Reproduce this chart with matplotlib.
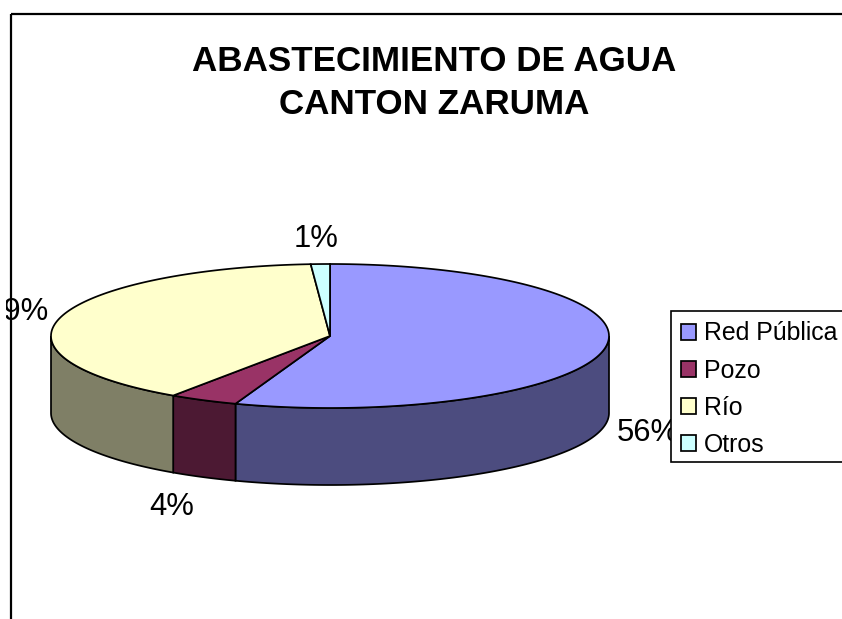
import numpy as np
import matplotlib
matplotlib.use("Agg")
import matplotlib.pyplot as plt
from matplotlib.patches import Patch, Polygon, Rectangle

plt.rcParams["font.family"] = ["Liberation Sans", "DejaVu Sans"]

categories = ["Red Pública", "Pozo", "Río", "Otros"]
values = [55.5, 4.0, 39.4, 1.1]
top_colors = ["#9999FF", "#993366", "#FFFFCC", "#CCFFFF"]
side_colors = ["#4C4C7F", "#4C1933", "#7F7F66", "#667F7F"]
title_lines = "ABASTECIMIENTO DE AGUA\nCANTON ZARUMA"

# pie geometry, in pixels of the picture
CX, CY = 330, 336
RX, RY = 279, 72
DEPTH = 77
EDGE = 1.25

# centre of each percent label
label_pos = [(648, 433), (172, 507), (18, 312), (316, 239)]


def rim(t):
    # t is degrees clockwise from 12 o'clock
    r = np.radians(t)
    return CX + RX * np.sin(r), CY - RY * np.cos(r)


fig = plt.figure(figsize=(8.42, 6.19), dpi=100)
ax = fig.add_axes([0, 0, 1, 1])
ax.set_xlim(0, 842)
ax.set_ylim(619, 0)
ax.axis("off")

# chart frame runs off the right and bottom of the picture
ax.add_patch(Rectangle((10.5, 14), 900, 700, fc="none", ec="black", lw=1.6, zorder=0))

bounds = np.concatenate([[0], np.cumsum(values)]) / np.sum(values) * 360

# walls: only the part of each slice facing the viewer
for i in range(len(values)):
    a = max(bounds[i], 90)
    b = min(bounds[i + 1], 270)
    if b <= a:
        continue
    t = np.linspace(a, b, 120)
    x, y = rim(t)
    pts = np.concatenate([np.c_[x, y], np.c_[x[::-1], y[::-1] + DEPTH]])
    ax.add_patch(Polygon(pts, fc=side_colors[i], ec="black", lw=EDGE, zorder=1))

# top face
for i in range(len(values)):
    t = np.linspace(bounds[i], bounds[i + 1], 200)
    x, y = rim(t)
    pts = np.concatenate([[[CX, CY]], np.c_[x, y]])
    ax.add_patch(Polygon(pts, fc=top_colors[i], ec="black", lw=EDGE, zorder=2))

# the original loses the left part of the 39% label past the frame
label_clip = Rectangle((6, 0), 842, 619, transform=ax.transData)
for v, (lx, ly) in zip(values, label_pos):
    lab = ax.text(lx, ly, f"{v:.0f}%", fontsize=22.3, ha="center", va="center", zorder=3)
    lab.set_clip_path(label_clip)
    lab.set_clip_on(True)

ax.text(434.5, 83, title_lines, fontsize=25.2, fontweight="bold", ha="center",
        va="center", linespacing=1.37, zorder=3)

# legend box is drawn apart so it can stop short of the legend's own padding
ax.add_patch(Rectangle((671, 311), 200, 151, fc="white", ec="black", lw=1.2, zorder=4))
handles = [Patch(fc=c, ec="black", lw=EDGE) for c in top_colors]
leg = ax.legend(handles, categories, loc="upper left", bbox_to_anchor=(671, 311),
                bbox_transform=ax.transData, borderaxespad=0, fontsize=17.9,
                frameon=False, borderpad=0.42, labelspacing=0.53, handlelength=0.6,
                handleheight=0.6, handletextpad=0.32)

fig.savefig("out.png", dpi=100)
